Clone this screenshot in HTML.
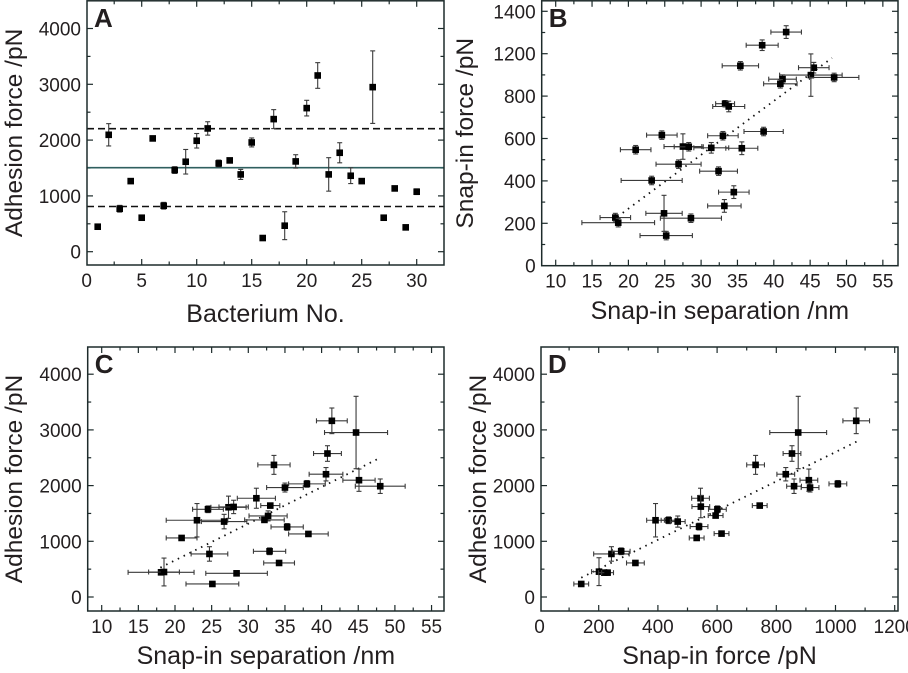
<!DOCTYPE html>
<html><head><meta charset="utf-8">
<style>
html,body{margin:0;padding:0;background:#fff;}
svg{display:block;font-family:"Liberation Sans",Arial,sans-serif;}
</style></head>
<body>
<svg id="fig" width="908" height="673" viewBox="0 0 908 673" xmlns="http://www.w3.org/2000/svg"></svg>
<script>
// ---- Panel A data ----
const aBacterium = [1,2,3,4,5,6,7,8,9,10,11,12,13,14,15,16,17,18,19,20,21,22,23,24,25,26,27,28,29,30];
const aForce = [448,2095,770,1265,609,2030,824,1463,1612,1988,2209,1582,1636,1385,1958,245,2376,466,1618,2573,3158,1385,1773,1361,1265,2949,609,1134,436,1075];
const aErr = [30,200,60,40,20,40,60,60,220,130,120,60,40,90,80,20,170,250,120,140,230,300,180,140,40,650,20,40,30,50];
const aMean = 1505, aUpper = 2205, aLower = 810;
// ---- Panel B data ----
const bSep = [41.7,38.4,35.4,45.5,45.1,48.3,41.2,40.9,33.3,33.8,38.6,24.6,33.0,21.0,27.5,28.3,31.4,35.6,26.9,32.4,23.2,34.5,33.2,24.9,28.6,18.2,18.6,25.2];
const bSnap = [1102,1040,943,934,899,888,880,858,764,751,633,616,613,547,562,561,556,554,479,446,402,347,282,247,224,227,203,142];
const bSepErr = [2.1,2.2,2.5,2.1,4.3,3.4,1.9,2.3,1.3,2.2,2.7,2.1,2.1,2.1,2.6,2,2.4,2.2,3.1,2.6,4.2,2.1,2.3,2.5,4.2,2.1,5,3.6];
const bSnapErr = [30,25,20,25,100,20,20,20,15,25,20,20,20,20,60,20,25,30,20,20,20,30,30,85,20,20,20,20];
const bYTickValues = [0,200,400,600,800,1000,1200];
const bYTickLabels = ["0","200","400","600","800","1200","1400"];
const bFit = [[18.5,231],[48,980]];
// ---- Panel C data ----
const cSep = [41.4,44.7,40.8,33.5,40.6,45.1,38.0,48.0,35.0,31.1,24.5,27.3,28.0,33.0,32.7,32.2,23.0,26.7,35.3,38.2,20.9,24.7,32.9,34.2,28.4,18.1,18.5,25.1];
const cForce = [3163,2953,2576,2372,2204,2097,2031,1989,1965,1773,1575,1611,1617,1641,1456,1384,1378,1354,1258,1132,1060,773,821,611,425,443,449,234];
const cSepErr = [2.1,4.3,1.9,2.2,2.3,2.2,2.5,3.4,2.5,2.6,2.1,2.4,2.0,1.3,2.6,2.7,4.2,3.1,2.2,2.7,2.1,2.5,2.2,2.1,4.2,4.5,2.1,3.6];
const cForceErr = [230,650,140,170,120,200,60,130,80,180,60,200,120,40,90,40,300,130,60,40,40,130,60,30,20,20,250,20];
const cFit = [[18,527],[47.6,2474]];
// ---- Panel D data ----
const dSnap = [1070,874,853,730,832,910,1008,860,914,544,545,601,595,392,436,467,539,744,531,615,243,276,324,201,219,230,141];
const dForce = [3163,2953,2576,2372,2204,2097,2031,1989,1965,1773,1623,1575,1462,1378,1378,1354,1264,1641,1060,1138,773,821,611,455,437,437,234];
const dSnapErr = [45,96,30,30,30,30,30,25,30,30,30,30,25,30,25,25,30,25,25,25,60,30,30,25,20,20,25];
const dForceErr = [230,650,140,170,120,200,60,130,80,180,200,60,40,300,60,100,60,40,40,40,130,60,30,250,20,20,20];
const dFit = [[141,347],[1072,2791]];

const NS = "http://www.w3.org/2000/svg";
const svg = document.getElementById('fig');
function mk(tag, attrs, parent){
  const e = document.createElementNS(NS, tag);
  for (const k in attrs) e.setAttribute(k, attrs[k]);
  (parent||svg).appendChild(e);
  return e;
}
function makePanel(cfg){
  const g = mk('g', {});
  
  
  const L=cfg.L,R=cfg.R,T=cfg.T,B=cfg.B;
  const sx = v => cfg.x0px + (v - cfg.x0v) * cfg.xs;
  const sy = v => cfg.y0px - (v - cfg.y0v) * cfg.ys;
  cfg.sx=sx; cfg.sy=sy; cfg.g=g;
  const tk = mk('g', {stroke:'#1d2b2b','stroke-width':1.2}, g);
  
  
  for (let v=cfg.xMinorStart; v<=cfg.xMax+1e-9; v+=cfg.xMinor){
    const x=sx(v); if (x<L+1||x>R-1) continue;
    const major = Math.abs(((v-cfg.xMajorStart)/cfg.xMajor) - Math.round((v-cfg.xMajorStart)/cfg.xMajor))<1e-6;
    const len = major?6:3.5;
    mk('line',{x1:x,x2:x,y1:B,y2:B-len},tk); mk('line',{x1:x,x2:x,y1:T,y2:T+len},tk);
  }
  for (let v=cfg.yMinorStart; v<=cfg.yMax+1e-9; v+=cfg.yMinor){
    const y=sy(v); if (y<T+1||y>B-1) continue;
    const major = Math.abs(((v-cfg.yMajorStart)/cfg.yMajor) - Math.round((v-cfg.yMajorStart)/cfg.yMajor))<1e-6;
    const len = major?6:3.5;
    mk('line',{x1:L,x2:L+len,y1:y,y2:y},tk); mk('line',{x1:R,x2:R-len,y1:y,y2:y},tk);
  }
  cfg.xTicks.forEach((v,i)=>{
    const t = mk('text',{x:sx(v),y:B+22,'text-anchor':'middle','font-size':19,fill:'#231f20'},g);
    
    
    t.textContent = cfg.xTickLabels[i];
  });
  cfg.yTicks.forEach((v,i)=>{
    const t = mk('text',{x:L-6,y:sy(v)+7,'text-anchor':'end','font-size':19,fill:'#231f20'},g);
    
    
    t.textContent = cfg.yTickLabels[i];
  });
  const xt = mk('text',{x:(L+R)/2,y:cfg.xTitleY,'text-anchor':'middle','font-size':25,fill:'#231f20'},g);
  
  
  xt.textContent = cfg.xTitle;
  const ty=(T+B)/2;
  const yt = mk('text',{x:cfg.yTitleX,y:ty,'text-anchor':'middle','font-size':24.5,fill:'#231f20',transform:`rotate(-90 ${cfg.yTitleX} ${ty})`},g);
  
  
  yt.textContent = cfg.yTitle;
  const lab = mk('text',{x:L+7,y:T+26,'font-size':26,'font-weight':'bold',fill:'#231f20'},g);
  
  
  lab.textContent = cfg.letter;
  return cfg;
}
function frame(cfg){
  const f = mk('rect',{x:cfg.L,y:cfg.T,width:cfg.R-cfg.L,height:cfg.B-cfg.T,fill:'none',stroke:'#1d2b2b','stroke-width':1.5},cfg.g);
  
  
}
function points(cfg, xs, ys, xe, ye){
  const sx=cfg.sx, sy=cfg.sy;
  xs.forEach((xv,i)=>{
    const x=sx(xv), y=sy(ys[i]);
    const eg = mk('g',{stroke:'#3a3a3a','stroke-width':1.1},cfg.g);
    
    
    if (ye){ const y1=sy(ys[i]+ye[i]), y2=sy(ys[i]-ye[i]);
      mk('line',{x1:x,x2:x,y1:y1,y2:y2},eg); mk('line',{x1:x-2.5,x2:x+2.5,y1:y1,y2:y1},eg); mk('line',{x1:x-2.5,x2:x+2.5,y1:y2,y2:y2},eg);}
    if (xe){ const x1=sx(xv-xe[i]), x2=sx(xv+xe[i]);
      mk('line',{x1:x1,x2:x2,y1:y,y2:y},eg); mk('line',{x1:x1,x2:x1,y1:y-2.5,y2:y+2.5},eg); mk('line',{x1:x2,x2:x2,y1:y-2.5,y2:y+2.5},eg);}
    const p = mk('rect',{x:x-3.3,y:y-3.3,width:6.6,height:6.6,fill:'#000'},cfg.g);
    
    
  });
}
function fit(cfg, pts){
  const l = mk('line',{x1:cfg.sx(pts[0][0]),y1:cfg.sy(pts[0][1]),x2:cfg.sx(pts[1][0]),y2:cfg.sy(pts[1][1]),stroke:'#111','stroke-width':1.8,'stroke-dasharray':'1.5 5'},cfg.g);
  
  
}

const A = makePanel({name:'panel-a',letter:'A',L:87,R:444,T:0.8,B:265,x0px:86.7,x0v:0,xs:11,y0px:251.7,y0v:0,ys:0.0558,
  xMinorStart:0,xMinor:2.5,xMajorStart:0,xMajor:5,xMax:32.5,yMinorStart:0,yMinor:500,yMajorStart:0,yMajor:1000,yMax:4500,
  xTicks:[0,5,10,15,20,25,30],xTickLabels:["0","5","10","15","20","25","30"],
  yTicks:[0,1000,2000,3000,4000],yTickLabels:["0","1000","2000","3000","4000"],
  xTitle:'Bacterium No.',xTitleY:322,yTitle:'Adhesion force /pN',yTitleX:22});
[[aUpper,'upper-bound-line'],[aLower,'lower-bound-line']].forEach(([v,n])=>{
  const l=mk('line',{x1:A.L,x2:A.R,y1:A.sy(v),y2:A.sy(v),stroke:'#111','stroke-width':1.6,'stroke-dasharray':'7 4'},A.g);
   
});
const ml=mk('line',{x1:A.L,x2:A.R,y1:A.sy(aMean),y2:A.sy(aMean),stroke:'#2f5f5f','stroke-width':1.6},A.g);
 
points(A, aBacterium, aForce, null, aErr);
frame(A);

const Bp = makePanel({name:'panel-b',letter:'B',L:541.7,R:898,T:0.8,B:265.7,x0px:555.7,x0v:10,xs:7.27,y0px:265.7,y0v:0,ys:0.212,
  xMinorStart:7.5,xMinor:2.5,xMajorStart:10,xMajor:5,xMax:57,yMinorStart:0,yMinor:100,yMajorStart:0,yMajor:200,yMax:1250,
  xTicks:[10,15,20,25,30,35,40,45,50,55],xTickLabels:["10","15","20","25","30","35","40","45","50","55"],
  yTicks:bYTickValues,yTickLabels:bYTickLabels,
  xTitle:'Snap-in separation /nm',xTitleY:319,yTitle:'Snap-in force /pN',yTitleX:473});
fit(Bp,bFit);
points(Bp, bSep, bSnap, bSepErr, bSnapErr);
frame(Bp);

const Cp = makePanel({name:'panel-c',letter:'C',L:87.7,R:444,T:347,B:611,x0px:101.7,x0v:10,xs:7.33,y0px:597,y0v:0,ys:0.0557,
  xMinorStart:7.5,xMinor:2.5,xMajorStart:10,xMajor:5,xMax:57,yMinorStart:0,yMinor:500,yMajorStart:0,yMajor:1000,yMax:4500,
  xTicks:[10,15,20,25,30,35,40,45,50,55],xTickLabels:["10","15","20","25","30","35","40","45","50","55"],
  yTicks:[0,1000,2000,3000,4000],yTickLabels:["0","1000","2000","3000","4000"],
  xTitle:'Snap-in separation /nm',xTitleY:664,yTitle:'Adhesion force /pN',yTitleX:22});
fit(Cp,cFit);
points(Cp, cSep, cForce, cSepErr, cForceErr);
frame(Cp);

const Dp = makePanel({name:'panel-d',letter:'D',L:541,R:898,T:347,B:611,x0px:539.5,x0v:0,xs:0.296,y0px:597,y0v:0,ys:0.0557,
  xMinorStart:0,xMinor:100,xMajorStart:0,xMajor:200,xMax:1210,yMinorStart:0,yMinor:500,yMajorStart:0,yMajor:1000,yMax:4500,
  xTicks:[0,200,400,600,800,1000,1200],xTickLabels:["0","200","400","600","800","1000","1200"],
  yTicks:[0,1000,2000,3000,4000],yTickLabels:["0","1000","2000","3000","4000"],
  xTitle:'Snap-in force /pN',xTitleY:664,yTitle:'Adhesion force /pN',yTitleX:486});
fit(Dp,dFit);
points(Dp, dSnap, dForce, dSnapErr, dForceErr);
frame(Dp);
</script>
</body></html>
